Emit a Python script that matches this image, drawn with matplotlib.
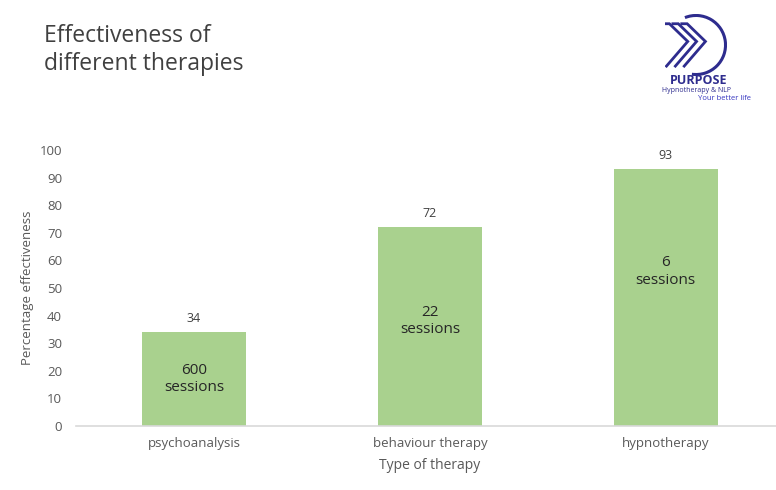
import numpy as np
import matplotlib.pyplot as plt
from matplotlib.patches import Arc

# data
therapies = ['psychoanalysis', 'behaviour therapy', 'hypnotherapy']
effectiveness = [34, 72, 93]
sessions = ['600\nsessions', '22\nsessions', '6\nsessions']
session_label_y = [17, 38, 56]

bar_color = '#A9D18E'
text_grey = '#595959'
navy = '#2E2C8E'

plt.rcParams['font.family'] = ['Open Sans', 'DejaVu Sans']

fig = plt.figure(figsize=(7.76, 4.90), dpi=100)
ax = fig.add_axes([0.098, 0.1306, 0.912, 0.5634])

x = np.arange(len(therapies))
ax.bar(x, effectiveness, width=0.44, color=bar_color, zorder=2)

# value labels above bars
for xi, v in zip(x, effectiveness):
    ax.text(xi, v + 2.5, str(v), ha='center', va='bottom', fontsize=9, color='#404040')

# number of sessions inside bars
for xi, lbl, ly in zip(x, sessions, session_label_y):
    ax.text(xi, ly, lbl, ha='center', va='center', fontsize=11,
            color='#262626', linespacing=1.25)

ax.set_xlim(-0.5, 2.5)
ax.set_ylim(0, 100)
ax.set_yticks(range(0, 101, 10))
ax.set_xticks(x)
ax.set_xticklabels(therapies)
ax.tick_params(axis='both', length=0, labelsize=9.5, colors=text_grey)
ax.tick_params(axis='y', pad=10)
ax.tick_params(axis='x', pad=8)
for s in ['top', 'right', 'left']:
    ax.spines[s].set_visible(False)
ax.spines['bottom'].set_color('#D9D9D9')
ax.spines['bottom'].set_linewidth(1.2)

ax.set_ylabel('Percentage effectiveness', fontsize=9.5, color=text_grey, labelpad=4)
ax.set_xlabel('Type of therapy', fontsize=10, color=text_grey, labelpad=6)

fig.text(0.057, 0.95, 'Effectiveness of\ndifferent therapies', fontsize=16.5,
         color='#404040', va='top', ha='left', linespacing=1.2)

# logo: open circle with three chevrons
lax = fig.add_axes([(696 - 31) / 776, 1 - (45 + 31) / 490, 62 / 776, 62 / 490])
lax.set_xlim(-1.05, 1.05)
lax.set_ylim(-1.05, 1.05)
lax.axis('off')
lax.add_patch(Arc((0, 0), 2, 2, theta1=-98, theta2=112, color=navy, lw=2.2))
for tip in [-0.28, 0.02, 0.32]:
    lax.plot([tip - 0.85, tip - 0.62, tip, tip - 0.75], [0.72, 0.72, 0.12, -0.75],
             color=navy, lw=2.0, solid_capstyle='butt', solid_joinstyle='miter')
fig.text(699 / 776, 1 - 81 / 490, 'PURPOSE', fontsize=9, weight='bold', color=navy,
         ha='center', va='center')
fig.text(696 / 776, 1 - 90.5 / 490, 'Hypnotherapy & NLP', fontsize=5, color=navy,
         ha='center', va='center')
fig.text(725 / 776, 1 - 99 / 490, 'Your better life', fontsize=5.5, color='#3535C0',
         ha='center', va='center')

fig.savefig('out.png', dpi=100)
